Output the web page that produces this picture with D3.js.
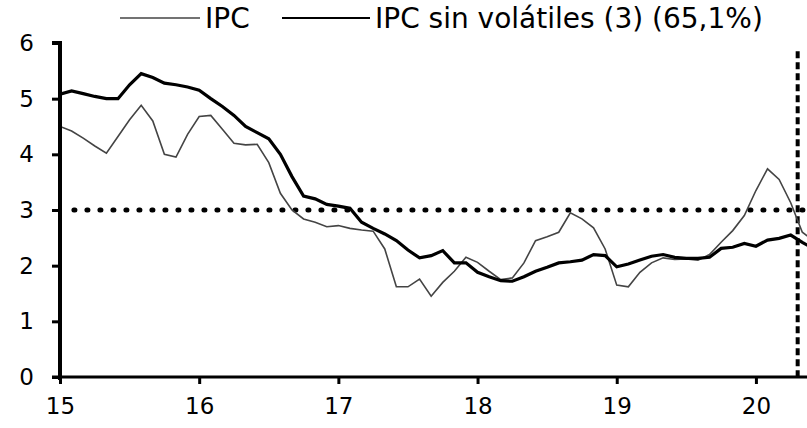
<!DOCTYPE html>
<html>
<head>
<meta charset="utf-8">
<script src="https://cdn.jsdelivr.net/npm/d3@7"></script>
<style>
  body { margin: 0; background: #fff; }
  svg text { font-family: "DejaVu Sans", sans-serif; fill: #000; }
</style>
</head>
<body>
<script>
// data, monthly from Jan 2015
var startYear = 15;
var ipc = [4.5, 4.42, 4.29, 4.15, 4.02, 4.32, 4.62, 4.88, 4.6, 4.0, 3.95, 4.36,
  4.68, 4.7, 4.45, 4.2, 4.17, 4.18, 3.85, 3.3, 3.0, 2.84, 2.78, 2.7,
  2.72, 2.67, 2.64, 2.62, 2.3, 1.62, 1.62, 1.76, 1.45, 1.7, 1.9, 2.15,
  2.06, 1.9, 1.75, 1.78, 2.05, 2.45, 2.52, 2.6, 2.95, 2.84, 2.68, 2.3,
  1.65, 1.62, 1.88, 2.05, 2.14, 2.11, 2.12, 2.1, 2.2, 2.42, 2.63, 2.9,
  3.35, 3.74, 3.55, 3.13, 2.6, 2.45];
var ipcSinVol = [5.08, 5.14, 5.09, 5.04, 5.0, 5.0, 5.25, 5.45, 5.38, 5.28, 5.25, 5.21,
  5.15, 5.0, 4.86, 4.7, 4.5, 4.39, 4.28, 4.0, 3.6, 3.25, 3.2, 3.1,
  3.07, 3.03, 2.78, 2.67, 2.57, 2.45, 2.28, 2.14, 2.18, 2.27, 2.05, 2.05,
  1.88, 1.8, 1.73, 1.72, 1.8, 1.9, 1.97, 2.05, 2.07, 2.1, 2.2, 2.18,
  1.98, 2.03, 2.1, 2.17, 2.2, 2.15, 2.13, 2.13, 2.15, 2.31, 2.33, 2.4,
  2.35, 2.46, 2.49, 2.55, 2.42, 2.3];
var yearTicks = [15, 16, 17, 18, 19, 20];
var valueTicks = [0, 1, 2, 3, 4, 5, 6];
var legendLabels = ["IPC", "IPC sin volátiles (3) (65,1%)"];
var targetLevel = 3;
var markerDate = 20.3;

var w = 807, h = 428;
var mLeft = 60, mRight = 807, mTop = 43, mBottom = 377;

var x = d3.scaleLinear().domain([15, 20.367]).range([mLeft, mRight]);
var y = d3.scaleLinear().domain([0, 6]).range([mBottom, mTop]);

var svg = d3.select("body").append("svg")
  .attr("width", w)
  .attr("height", h);

svg.append("defs").append("clipPath").attr("id", "plot")
  .append("rect")
  .attr("x", mLeft).attr("y", 0)
  .attr("width", mRight - mLeft).attr("height", mBottom);

// reference lines
svg.append("line")
  .attr("x1", x(15.1)).attr("x2", mRight)
  .attr("y1", y(targetLevel)).attr("y2", y(targetLevel))
  .attr("stroke", "#000").attr("stroke-width", 5)
  .attr("stroke-linecap", "round")
  .attr("stroke-dasharray", "1 12");

svg.append("line")
  .attr("x1", x(markerDate)).attr("x2", x(markerDate))
  .attr("y1", y(5.85)).attr("y2", mBottom)
  .attr("stroke", "#000").attr("stroke-width", 4)
  .attr("stroke-dasharray", "7 4");

// series
var line = d3.line()
  .x(function(d, i) { return x(startYear + i / 12); })
  .y(function(d) { return y(d); });

var g = svg.append("g").attr("clip-path", "url(#plot)");

g.append("path")
  .datum(ipc)
  .attr("d", line)
  .attr("fill", "none")
  .attr("stroke", "#444")
  .attr("stroke-width", 1.6);

g.append("path")
  .datum(ipcSinVol)
  .attr("d", line)
  .attr("fill", "none")
  .attr("stroke", "#000")
  .attr("stroke-width", 3.2);

// axes
var yAxis = svg.append("g")
  .attr("transform", "translate(" + mLeft + ",0)")
  .call(d3.axisLeft(y).tickValues(valueTicks).tickFormat(d3.format("d")).tickSize(8).tickPadding(18));
var xAxis = svg.append("g")
  .attr("transform", "translate(0," + mBottom + ")")
  .call(d3.axisBottom(x).tickValues(yearTicks).tickFormat(d3.format("d")).tickSize(7).tickPadding(14));

yAxis.select(".domain").attr("d", "M-8," + mTop + "H0V" + (mBottom + 3))
  .attr("stroke-width", 4);
xAxis.select(".domain").attr("d", "M" + (mLeft - 8) + ",0H" + mRight)
  .attr("stroke-width", 3);
svg.selectAll(".tick line").attr("stroke-width", 3);
svg.selectAll(".tick text").style("font-size", "23px").attr("font-family", null);

// legend
var legend = svg.append("g");
var legendX = [[120, 200, 205], [282, 370, 375]];
legendLabels.forEach(function(lbl, i) {
  legend.append("line")
    .attr("x1", legendX[i][0]).attr("x2", legendX[i][1])
    .attr("y1", 18).attr("y2", 18)
    .attr("stroke", i == 0 ? "#444" : "#000")
    .attr("stroke-width", i == 0 ? 1.6 : 2.2);
  legend.append("text")
    .attr("x", legendX[i][2])
    .attr("y", 28)
    .style("font-size", "28px")
    .text(lbl);
});
</script>
</body>
</html>
